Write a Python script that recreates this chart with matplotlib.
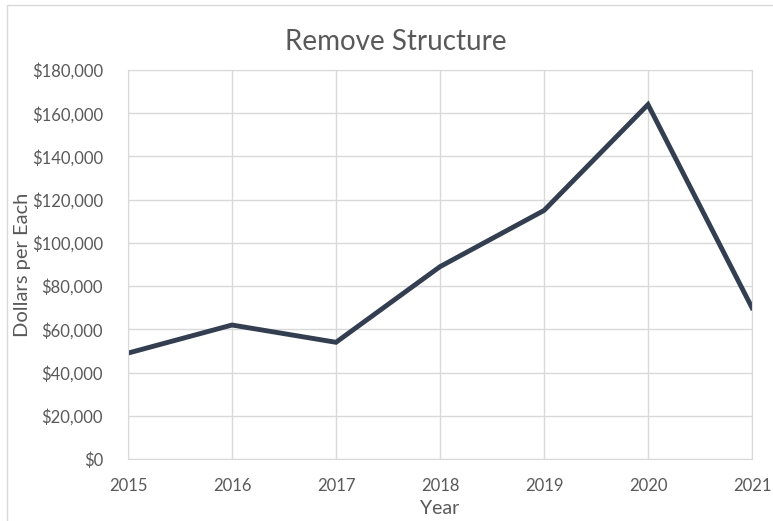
import matplotlib
matplotlib.use("Agg")
import matplotlib.pyplot as plt
from matplotlib.patches import Rectangle
from matplotlib.ticker import FuncFormatter

years = [2015, 2016, 2017, 2018, 2019, 2020, 2021]
dollars = [49000, 62000, 54000, 89000, 115000, 164000, 70000]

TEXT = "#595959"
GRID = "#d9d9d9"
LINE = "#333f50"

plt.rcParams['font.family'] = ['Lato', 'DejaVu Sans']

fig = plt.figure(figsize=(7.73, 5.21), dpi=100)
ax = fig.add_axes([128 / 773, 62 / 521, 624 / 773, 389 / 521])

ax.plot(years, dollars, color=LINE, linewidth=3.5, solid_joinstyle="miter")

ax.set_xlim(2015, 2021)
ax.set_ylim(0, 180000)
ax.set_xticks(years)
ax.set_yticks(range(0, 180001, 20000))
ax.yaxis.set_major_formatter(FuncFormatter(lambda v, p: "${:,.0f}".format(v)))

ax.grid(True, color=GRID, linewidth=1.0)
ax.set_axisbelow(True)
for s in ax.spines.values():
    s.set_color(GRID)
ax.tick_params(length=0, colors=TEXT, labelsize=12)
ax.tick_params(axis="x", pad=14)
ax.tick_params(axis="y", pad=18)

# title is centred on the chart area, not the plot
fig.text(396 / 773, 1 - 42 / 521, "Remove Structure", color=TEXT,
         fontsize=20, ha="center", va="center")
ax.set_xlabel("Year", color=TEXT, fontsize=14, labelpad=4)
ax.set_ylabel("Dollars per Each", color=TEXT, fontsize=14.5)
ax.yaxis.set_label_coords((31 - 128) / 624, 0.5)

# light chart-area border
fig.patches.append(Rectangle((7 / 773, -0.1), 1.2, 1 - 5 / 521 + 0.1,
                             transform=fig.transFigure, fill=False,
                             edgecolor=GRID, linewidth=1.0))

fig.savefig("out.png", dpi=100)
